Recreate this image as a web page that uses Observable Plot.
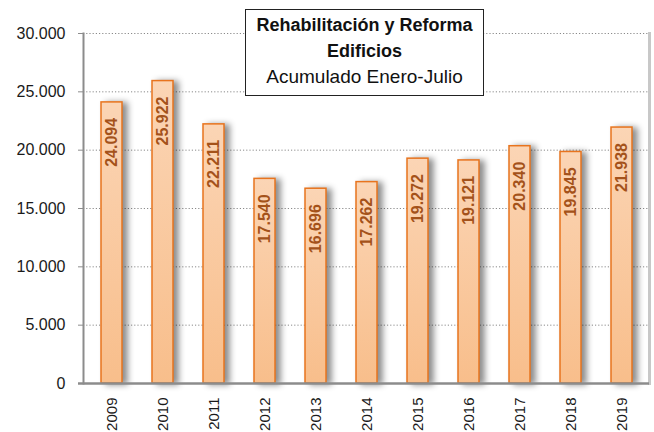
<!DOCTYPE html>
<html>
<head>
<meta charset="utf-8">
<script src="https://cdn.jsdelivr.net/npm/d3@7"></script>
<script src="https://cdn.jsdelivr.net/npm/@observablehq/plot@0.6"></script>
<style>
  html, body { margin: 0; padding: 0; background: #fff; }
  #wrap { position: relative; width: 654px; height: 432px; overflow: hidden; font-family: "Liberation Sans", Arial, sans-serif; }
  #title {
    position: absolute; left: 245px; top: 9px; width: 237px; height: 83px;
    border: 1px solid #222; background: #fff; text-align: center;
    font-size: 18px; line-height: 26px; padding-top: 2px; color: #111;
  }
  #title .b { font-weight: bold; }
  #title .r { font-size: 19px; }
  g[aria-label="bar"] rect { filter: drop-shadow(5px 1px 3px rgba(0,0,0,0.45)); }
</style>
</head>
<body>
<div id="wrap">
  <div id="chart"></div>
  <div id="title">
    <div class="b">Rehabilitación y Reforma</div>
    <div class="b">Edificios</div>
    <div class="r">Acumulado Enero-Julio</div>
  </div>
</div>
<script>
const years = ["2009","2010","2011","2012","2013","2014","2015","2016","2017","2018","2019"];
const values = [24094, 25922, 22211, 17540, 16696, 17262, 19272, 19121, 20340, 19845, 21938];
const yTicks = [0, 5000, 10000, 15000, 20000, 25000, 30000];

const fmt = d => d3.format(",")(d).replace(/,/g, ".");
const data = years.map((y, i) => ({year: y, value: values[i]}));

const defs = () => {
  const d = d3.create("svg:defs");
  const g = d.append("linearGradient").attr("id", "barGrad")
    .attr("x1", 0).attr("y1", 0).attr("x2", 0).attr("y2", 1);
  g.append("stop").attr("offset", "0%").attr("stop-color", "#fbd5b5");
  g.append("stop").attr("offset", "100%").attr("stop-color", "#f8be8b");
  return d.node();
};

const chart = Plot.plot({
  width: 654,
  height: 432,
  marginLeft: 83,
  marginRight: 5,
  marginTop: 33,
  marginBottom: 49,
  style: {fontFamily: "'Liberation Sans', Arial, sans-serif", background: "transparent"},
  x: {domain: years, paddingInner: 0.592, paddingOuter: 0.301},
  y: {domain: [0, 30000]},
  marks: [
    defs,
    Plot.ruleY(yTicks.filter(d => d > 0), {stroke: "#8a8a8a", strokeDasharray: "1.2,2", strokeWidth: 1}),
    Plot.frame({anchor: "right", stroke: "#c8c8c8", strokeWidth: 3}),
    Plot.barY(data, {x: "year", y: "value", fill: "url(#barGrad)", stroke: "#e8741e", strokeWidth: 1.5}),
    Plot.text(data, {x: "year", y: "value", text: d => fmt(d.value), rotate: -90, textAnchor: "end", dy: 15.5,
      fontSize: 16, fontWeight: "bold", fill: "#a4521a"}),
    Plot.frame({anchor: "left", stroke: "#8c8c8c", strokeWidth: 2}),
    Plot.ruleY([0], {stroke: "#8c8c8c", strokeWidth: 2.5, insetLeft: -5}),
    Plot.axisY({ticks: yTicks, tickFormat: fmt, tickSize: 5, tickPadding: 13, fontSize: 16, stroke: "#8c8c8c", color: "#1a1a1a", label: null}),
    Plot.axisX({tickRotate: -90, tickSize: 0, tickPadding: 14, fontSize: 15, color: "#1a1a1a", label: null})
  ]
});
document.getElementById("chart").appendChild(chart);
</script>
</body>
</html>
